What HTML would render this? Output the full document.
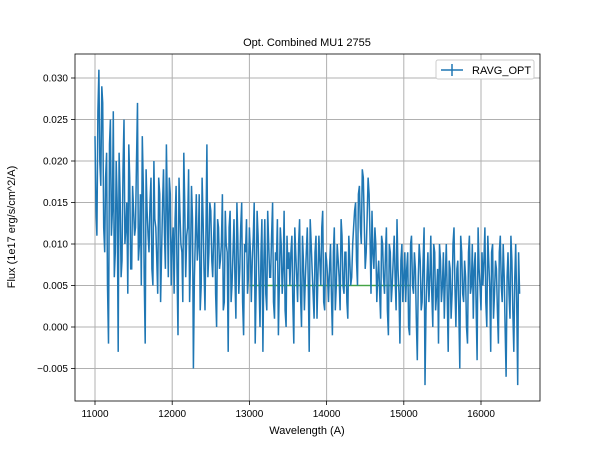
<!DOCTYPE html>
<html><head><meta charset="utf-8"><style>
body{margin:0;background:#fff}
svg{display:block;font-family:"Liberation Sans","DejaVu Sans",sans-serif}
</style></head><body>
<svg id="chart" width="600" height="450">
<rect width="600" height="450" fill="#fff"/>
<g id="grid"></g>
<g id="series"></g>
<rect x="75" y="54" width="465" height="347" fill="none" stroke="#000" stroke-width="0.8"/>
<g id="ticks"></g>
<text x="307" y="46" font-size="11" text-anchor="middle">Opt. Combined MU1 2755</text>
<text x="307" y="434" font-size="11" text-anchor="middle">Wavelength (A)</text>
<text transform="translate(15,227) rotate(-90)" font-size="11" text-anchor="middle">Flux (1e17 erg/s/cm^2/A)</text>
<g>
<rect x="436" y="60" width="98" height="19" fill="#fff" stroke="#ccc" rx="2"/>
<line x1="441" y1="70" x2="463" y2="70" stroke="#1f77b4" stroke-width="1.5"/>
<line x1="452" y1="64" x2="452" y2="76" stroke="#1f77b4" stroke-width="1.5"/>
<text x="472" y="74" font-size="11">RAVG_OPT</text>
</g>
</svg>
<script>
const startWave = 11000;
const stepWave = 12.5;
const fluxMilliEven = [23,11,31,17,27,
9,21,-2,25,14,6,20,-3,16,8,25,12,4,18,7,14,
12,27,10,5,17,-2,14,9,18,5,13,8,18,3,15,11,22,6,16,10,
4,17,-1,14,9,21,6,12,3,17,-5,11,8,16,5,13,2,22,9,14,
6,15,0,12,8,16,3,10,-3,14,5,13,1,11,7,15,-1,9,4,12,
3,11,-2,14,5,9,-3,13,2,10,6,15,1,8,-1,12,4,14,0,7,
5,11,-2,9,3,13,0,8,6,12,-3,10,4,9,1,11,5,14,2,8,
3,10,-1,12,5,8,2,11,4,9,1,8,
6,12,15,5,17,10,18,7,13,16,4,9,12,3,
8,1,10,4,12,-1,9,5,11,2,7,-2,10,6,
3,9,-1,11,4,7,-4,10,2,8,-7,6,3,11,0,9,4,-2,8,5,
1,10,-3,7,4,12,0,8,-5,9,3,6,-2,11,5,1,9,-4,7,2,
5,12,0,8,-3,10,4,7,-2,11,3,6,-6,9,1,8,-3,10,-7,4];
const fluxMilliOdd = [14,26,20,29,12,
18,5,22,11,26,9,15,21,6,19,10,15,22,7,17,11,
20,8,16,23,6,19,11,15,7,20,12,4,16,9,19,7,14,18,5,12,
13,7,18,10,3,15,11,19,8,13,6,16,10,2,18,7,12,6,15,8,
11,4,13,7,10,2,14,9,12,3,9,6,15,4,12,3,10,13,6,9,
8,15,5,11,0,13,8,4,14,6,11,3,9,13,5,10,7,2,11,9,
9,3,12,6,10,4,11,2,9,5,13,7,1,11,6,8,12,3,9,6,
7,4,9,2,10,6,13,5,9,3,11,5,
10,14,8,16,12,19,13,9,18,11,14,7,10,6,
4,11,6,9,2,10,3,8,6,13,4,8,3,9,
7,0,10,5,9,1,6,8,3,12,2,9,6,4,10,2,7,10,3,9,
6,4,8,1,10,5,7,2,11,4,8,0,9,4,10,7,2,12,5,9,
8,3,11,5,9,1,8,2,9,5,10,0,6,4,11,2,6,3,9];
const fitStart = 13000, fitEnd = 15080, fitValue = 0.005;
const xTicks = [11000,12000,13000,14000,15000,16000];
const yTicks = [-0.005,0,0.005,0.010,0.015,0.020,0.025,0.030];
const yTickLabels = ["−0.005","0.000","0.005","0.010","0.015","0.020","0.025","0.030"];

const NS="http://www.w3.org/2000/svg";
const xs = w => 95 + (w-11000)*0.0772;
const ys = v => 327 - v*8300;
function mk(t,a,p){const e=document.createElementNS(NS,t);for(const k in a)e.setAttribute(k,a[k]);p.appendChild(e);return e;}
const grid=document.getElementById('grid'), ticks=document.getElementById('ticks'), series=document.getElementById('series');
xTicks.forEach(t=>{
  const g=mk('line',{x1:xs(t),x2:xs(t),y1:54,y2:401,stroke:'#b0b0b0','stroke-width':1},grid);
  
  
  const tk=mk('line',{x1:xs(t),x2:xs(t),y1:401,y2:405,stroke:'#000','stroke-width':0.8},ticks);
  
  
  const l=mk('text',{x:xs(t),y:417,'font-size':10,'text-anchor':'middle'},ticks);
  l.textContent=t;
  
  
});
yTicks.forEach((t,i)=>{
  const g=mk('line',{x1:75,x2:540,y1:ys(t),y2:ys(t),stroke:'#b0b0b0','stroke-width':1},grid);
  
  
  const tk=mk('line',{x1:71,x2:75,y1:ys(t),y2:ys(t),stroke:'#000','stroke-width':0.8},ticks);
  
  
  const l=mk('text',{x:68,y:ys(t)+3.5,'font-size':10,'text-anchor':'end'},ticks);
  l.textContent=yTickLabels[i];
  
  
});
const fit=mk('line',{x1:xs(fitStart),x2:xs(fitEnd),y1:ys(fitValue),y2:ys(fitValue),stroke:'#2ca02c','stroke-width':1.5,opacity:0.8},series);


const flux=[];
fluxMilliEven.forEach((v,i)=>{flux.push(v); if(i<fluxMilliOdd.length) flux.push(fluxMilliOdd[i]);});
const pts=flux.map((v,i)=>xs(startWave+i*stepWave).toFixed(1)+','+ys(v/1000).toFixed(1)).join(' ');
const pl=mk('polyline',{points:pts,fill:'none',stroke:'#1f77b4','stroke-width':1.5,'stroke-linejoin':'miter'},series);


</script>
</body></html>
